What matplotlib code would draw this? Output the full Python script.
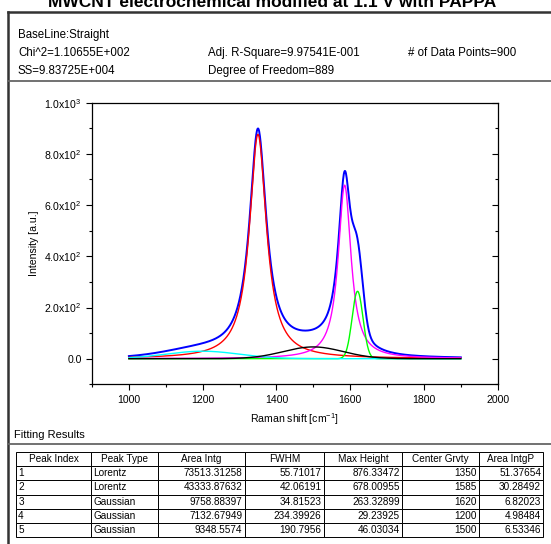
import numpy as np
import matplotlib
matplotlib.use("Agg")
import matplotlib.pyplot as plt
from matplotlib.lines import Line2D
from matplotlib.ticker import MultipleLocator, FixedLocator

plt.rcParams['font.family'] = ['Liberation Sans', 'DejaVu Sans']
plt.rcParams['mathtext.fontset'] = 'custom'
plt.rcParams['mathtext.rm'] = 'Liberation Sans'
plt.rcParams['mathtext.it'] = 'Liberation Sans'

# ---- data (fit results from the table) ----
peak_index = [1, 2, 3, 4, 5]
peak_type = ["Lorentz", "Lorentz", "Gaussian", "Gaussian", "Gaussian"]
area_intg = ["73513.31258", "43333.87632", "9758.88397", "7132.67949", "9348.5574"]
fwhm = [55.71017, 42.06191, 34.81523, 234.39926, 190.7956]
fwhm_txt = ["55.71017", "42.06191", "34.81523", "234.39926", "190.7956"]
max_height = [876.33472, 678.00955, 263.32899, 29.23925, 46.03034]
max_height_txt = ["876.33472", "678.00955", "263.32899", "29.23925", "46.03034"]
center = [1350, 1585, 1620, 1200, 1500]
area_p = ["51.37654", "30.28492", "6.82023", "4.98484", "6.53346"]
peak_colors = ["#ff0000", "#ff00ff", "#00ff00", "#00ffff", "#000000"]
x_start, x_end, n_points = 1000, 1900, 900
baseline = 0.0

x_ticks = [1000, 1200, 1400, 1600, 1800, 2000]
y_ticks = [0, 200, 400, 600, 800, 1000]
y_tick_labels = ["0.0", "2.0x10$^{2}$", "4.0x10$^{2}$", "6.0x10$^{2}$",
                 "8.0x10$^{2}$", "1.0x10$^{3}$"]

header_lines = [
    ("BaseLine:Straight", "", ""),
    ("Chi^2=1.10655E+002", "Adj. R-Square=9.97541E-001", "# of Data Points=900"),
    ("SS=9.83725E+004", "Degree of Freedom=889", ""),
]
col_labels = ["Peak Index", "Peak Type", "Area Intg", "FWHM", "Max Height",
              "Center Grvty", "Area IntgP"]

# ---- figure ----
W, H = 551, 544
fig = plt.figure(figsize=(W / 100, H / 100), dpi=100)


def fx(px):
    return px / W


def fy(py):
    return 1 - py / H


# title (partly cut at top, as in the reference)
fig.text(fx(272), fy(7), "MWCNT electrochemical modified at 1.1 V with PAPPA",
         ha="center", va="baseline", fontsize=12.5, fontweight="bold")

# frame lines
def hline(y, x0, x1, lw=1.5, c="#555555"):
    fig.add_artist(Line2D([fx(x0), fx(x1)], [fy(y), fy(y)], lw=lw, color=c))


def vline(x, y0, y1, lw=1.5, c="#555555"):
    fig.add_artist(Line2D([fx(x), fx(x)], [fy(y0), fy(y1)], lw=lw, color=c))

hline(12, 8, 551, lw=1.8, c="#333333")
vline(8, 12, 544, lw=1.8, c="#333333")
hline(81, 8, 551, lw=1.3, c="#666666")
hline(444, 8, 551, lw=1.3, c="#666666")

# header text
cols_x = [18, 208, 408]
rows_y = [35, 53, 71]
for (a, b, c), yy in zip(header_lines, rows_y):
    for t, xx in zip((a, b, c), cols_x):
        if t:
            fig.text(fx(xx), fy(yy), t, ha="left", va="center", fontsize=8.3)

fig.text(fx(14), fy(435), "Fitting Results", ha="left", va="center", fontsize=8.0)

# ---- plot ----
ax = fig.add_axes([fx(92), fy(384.3), fx(497.7) - fx(92), fy(102.7) - fy(384.3)])
x = np.linspace(x_start, x_end, n_points)


def lorentz(xx, xc, w, h):
    return h / (1 + ((xx - xc) / (w / 2)) ** 2)


def gauss(xx, xc, w, h):
    return h * np.exp(-4 * np.log(2) * ((xx - xc) / w) ** 2)


comps = []
for t, xc, w, h in zip(peak_type, center, fwhm, max_height):
    f = lorentz if t == "Lorentz" else gauss
    comps.append(f(x, xc, w, h) + baseline)

total = baseline + sum(c - baseline for c in comps)
ax.plot(x, total, color="#0000ff", lw=1.4, zorder=3)
for c, col in zip(comps, peak_colors):
    ax.plot(x, c, color=col, lw=1.0, zorder=4 if col != "#000000" else 5)

ax.set_xlim(900, 2000)
ax.set_ylim(-100, 1000)
ax.xaxis.set_major_locator(FixedLocator(x_ticks))
ax.xaxis.set_minor_locator(MultipleLocator(100))
ax.yaxis.set_major_locator(FixedLocator(y_ticks))
ax.set_yticklabels(y_tick_labels)
ax.yaxis.set_minor_locator(MultipleLocator(100))
ax.tick_params(axis="both", which="major", labelsize=7.6, length=4, width=0.8)
ax.tick_params(axis="both", which="minor", length=2, width=0.8)
ax.tick_params(axis="x", direction="out", top=False)
ax.tick_params(axis="y", which="both", direction="out", right=False)
# right side ticks inward
axr = ax.secondary_yaxis("right")
axr.yaxis.set_major_locator(FixedLocator(y_ticks))
axr.yaxis.set_minor_locator(MultipleLocator(100))
axr.tick_params(which="major", direction="in", length=4, width=0.8, labelright=False)
axr.tick_params(which="minor", direction="in", length=2, width=0.8)
axr.spines["right"].set_visible(False)
for s in ax.spines.values():
    s.set_linewidth(0.9)

ax.set_xlabel("Raman shift [cm$^{-1}$]", fontsize=7.6, labelpad=5)
ax.set_ylabel("Intensity [a.u.]", fontsize=7.6, labelpad=4)

# ---- table ----
tab_left, tab_right, tab_top, tab_bot = 16, 543, 452, 537
tax = fig.add_axes([fx(tab_left), fy(tab_bot), fx(tab_right) - fx(tab_left),
                    fy(tab_top) - fy(tab_bot)])
tax.axis("off")
cell_text = []
for i in range(5):
    cell_text.append([str(peak_index[i]), peak_type[i], area_intg[i], fwhm_txt[i],
                      max_height_txt[i], str(center[i]), area_p[i]])
widths_px = [75, 67, 87, 79, 78, 77, 64]
tot = sum(widths_px)
tbl = tax.table(cellText=cell_text, colLabels=col_labels,
                colWidths=[w / tot for w in widths_px], bbox=[0, 0, 1, 1])
tbl.auto_set_font_size(False)
for (r, c), cell in tbl.get_celld().items():
    cell.set_linewidth(0.7)
    cell.set_edgecolor("black")
    cell.get_text().set_fontsize(7.2)
    if r == 0:
        cell.get_text().set_ha("center")
        cell._loc = "center"
    elif c in (0, 1):
        cell._loc = "left"
        cell.get_text().set_ha("left")
        cell.PAD = 0.03
    else:
        cell._loc = "right"
        cell.get_text().set_ha("right")
        cell.PAD = 0.03

fig.savefig("out.png", dpi=100)
